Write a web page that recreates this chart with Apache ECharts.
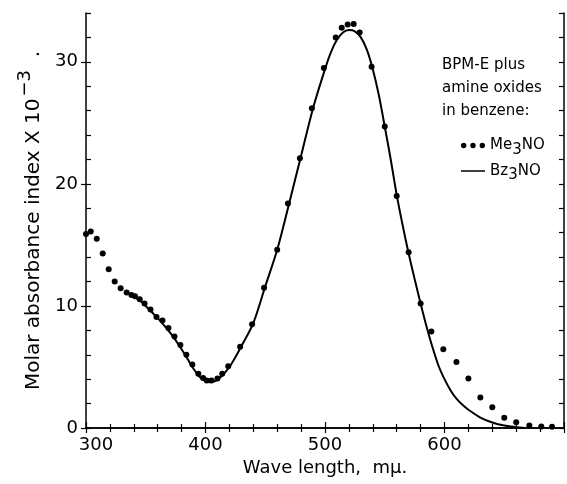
<!DOCTYPE html>
<html>
<head>
<meta charset="utf-8">
<script src="https://cdn.jsdelivr.net/npm/echarts/dist/echarts.min.js"></script>
<style>html,body{margin:0;padding:0;background:#fff}#c{width:567px;height:484px}</style>
</head>
<body>
<div id="c"></div>
<script>
// Me3NO (dots)
const me3noWavelength = [300,304,309,314,319,324,329,334,338,341,345,349,354,359,364,369,374,379,384,389,394,398,401,405,410,414,419,429,439,449,460,469,479,489,499,509,514,519,524,529,539,550,560,570,580,589,599,610,620,630,640,650,660,671,681,690];
const me3noAbsorbance = [15.9,16.1,15.5,14.3,13.0,12.0,11.45,11.1,10.9,10.8,10.55,10.2,9.7,9.1,8.8,8.2,7.5,6.8,6.0,5.2,4.45,4.1,3.9,3.9,4.05,4.45,5.05,6.65,8.5,11.5,14.6,18.4,22.1,26.2,29.5,32.0,32.8,33.05,33.1,32.4,29.6,24.7,19.0,14.4,10.2,7.9,6.45,5.4,4.05,2.5,1.7,0.85,0.48,0.2,0.12,0.1];
// Bz3NO (solid line)
const bz3noWavelength = [340,345,350,355,360,365,370,375,380,385,390,395,400,403,407,410,415,420,425,430,440,450,460,470,480,490,500,505,510,515,520,525,530,535,540,545,550,555,560,565,570,575,580,585,590,595,600,605,610,615,620,630,640,650,660,667];
const bz3noAbsorbance = [10.75,10.45,10.0,9.5,9.0,8.45,7.85,7.2,6.45,5.65,4.85,4.2,3.85,3.75,3.8,3.95,4.4,5.0,5.8,6.7,8.6,11.6,14.6,18.4,22.3,26.2,29.4,30.8,31.8,32.4,32.6,32.5,32.0,31.0,29.4,27.3,24.7,22.0,19.1,16.6,14.3,12.2,10.2,8.3,6.6,5.1,4.0,3.1,2.4,1.9,1.5,0.85,0.45,0.2,0.07,0.0];
const xTickLabels = [300,400,500,600];
const yTickLabels = [0,10,20,30];
const seriesNames = ['Me3NO','Bz3NO'];
const legendHeading = ['BPM-E plus','amine oxides','in benzene:'];

const FONT = 'DejaVu Sans';
const INK = '#000';

const chart = echarts.init(document.getElementById('c'), null, {renderer:'canvas'});
const zip = (xs, ys) => xs.map((x, i) => [x, ys[i]]);
const axisLineStyle = {color: INK, width: 1.5};
const tickStyle = {color: INK, width: 1.2};

const option = {
  animation: false,
  backgroundColor: '#fff',
  title: {
    text: legendHeading.join('\n'),
    left: 437, top: 49,
    textStyle: {fontFamily: FONT, fontSize: 15, fontWeight: 'normal', color: INK, lineHeight: 23}
  },
  legend: {
    orient: 'vertical',
    left: 456, top: 133,
    itemWidth: 24, itemHeight: 6, itemGap: 6,
    selectedMode: false,
    formatter: name => '{a|' + name.slice(0,2) + '}{b|3}{a|NO}',
    textStyle: {
      fontFamily: FONT, fontSize: 15, color: INK,
      rich: {
        a: {fontFamily: FONT, fontSize: 15, color: INK},
        b: {fontFamily: FONT, fontSize: 15, color: INK, padding: [9,0,0,0]}
      }
    },
    data: [
      {name: seriesNames[0], icon: 'path://M0.4,3 A2.6,2.6 0 1,0 5.6,3 A2.6,2.6 0 1,0 0.4,3 Z M9.4,3 A2.6,2.6 0 1,0 14.6,3 A2.6,2.6 0 1,0 9.4,3 Z M18.4,3 A2.6,2.6 0 1,0 23.6,3 A2.6,2.6 0 1,0 18.4,3 Z'},
      {name: seriesNames[1], icon: 'path://M0,0 L24,0 L24,1.5 L0,1.5 Z'}
    ]
  },
  grid: {left: 86, right: 1, top: 13, bottom: 56, containLabel: false},
  xAxis: [
    {
      type: 'value', min: 300, max: 700, interval: 100, position: 'bottom',
      axisLine: {lineStyle: axisLineStyle},
      axisTick: {inside: true, length: 6, lineStyle: tickStyle},
      minorTick: {show: true, splitNumber: 5, length: 4, lineStyle: tickStyle},
      splitLine: {show: false},
      axisLabel: {
        margin: 8, fontFamily: FONT, fontSize: 18, color: INK,
        formatter: v => xTickLabels.includes(v) ? (v === xTickLabels[0] ? '{p|' + v + '}' : String(v)) : '',
        rich: {p: {fontFamily: FONT, fontSize: 18, color: INK, padding: [0,0,0,20]}}
      },
      name: 'Wave length,  mμ.', nameLocation: 'middle', nameGap: 30,
      nameTextStyle: {fontFamily: FONT, fontSize: 18, color: INK}
    },
    {
      type: 'value', min: 300, max: 700, interval: 100, position: 'top',
      axisLine: {lineStyle: axisLineStyle},
      axisTick: {inside: true, length: 5, lineStyle: tickStyle},
      minorTick: {show: true, splitNumber: 5, length: 4, lineStyle: tickStyle},
      splitLine: {show: false}, axisLabel: {show: false}
    }
  ],
  yAxis: [
    {
      type: 'value', min: 0, max: 34, interval: 10, position: 'left',
      axisLine: {lineStyle: axisLineStyle},
      axisTick: {inside: false, length: 5, lineStyle: tickStyle, customValues: yTickLabels},
      splitLine: {show: false},
      axisLabel: {
        margin: 8, fontFamily: FONT, fontSize: 18, color: INK,
        customValues: yTickLabels,
        formatter: v => yTickLabels.includes(v) ? String(v) : ''
      },
      name: '{a|Molar absorbance index X 10}{s|−3}{a|  .}',
      nameLocation: 'middle', nameGap: 33, nameRotate: 90,
      nameTextStyle: {
        fontFamily: FONT, fontSize: 20, color: INK,
        rich: {
          a: {fontFamily: FONT, fontSize: 20, color: INK},
          s: {fontFamily: FONT, fontSize: 18, color: INK, padding: [0,0,18,2]}
        }
      }
    },
    {
      type: 'value', min: 0, max: 34, interval: 2, position: 'left',
      axisLine: {show: false},
      axisTick: {inside: true, length: 5, lineStyle: tickStyle},
      splitLine: {show: false}, axisLabel: {show: false}
    },
    {
      type: 'value', min: 0, max: 34, interval: 2, position: 'right',
      axisLine: {lineStyle: axisLineStyle},
      axisTick: {inside: true, length: 5, lineStyle: tickStyle},
      splitLine: {show: false}, axisLabel: {show: false}
    }
  ],
  series: [
    {
      name: seriesNames[0], type: 'scatter', xAxisIndex: 0, yAxisIndex: 0,
      symbol: 'circle', symbolSize: 6,
      itemStyle: {color: INK, opacity: 1},
      data: zip(me3noWavelength, me3noAbsorbance), z: 3
    },
    {
      name: seriesNames[1], type: 'line', xAxisIndex: 0, yAxisIndex: 0,
      showSymbol: false, symbol: 'none', smooth: 0.3,
      itemStyle: {color: INK},
      lineStyle: {color: INK, width: 2},
      data: zip(bz3noWavelength, bz3noAbsorbance), z: 2
    }
  ]
};
chart.setOption(option);
</script>
</body>
</html>
